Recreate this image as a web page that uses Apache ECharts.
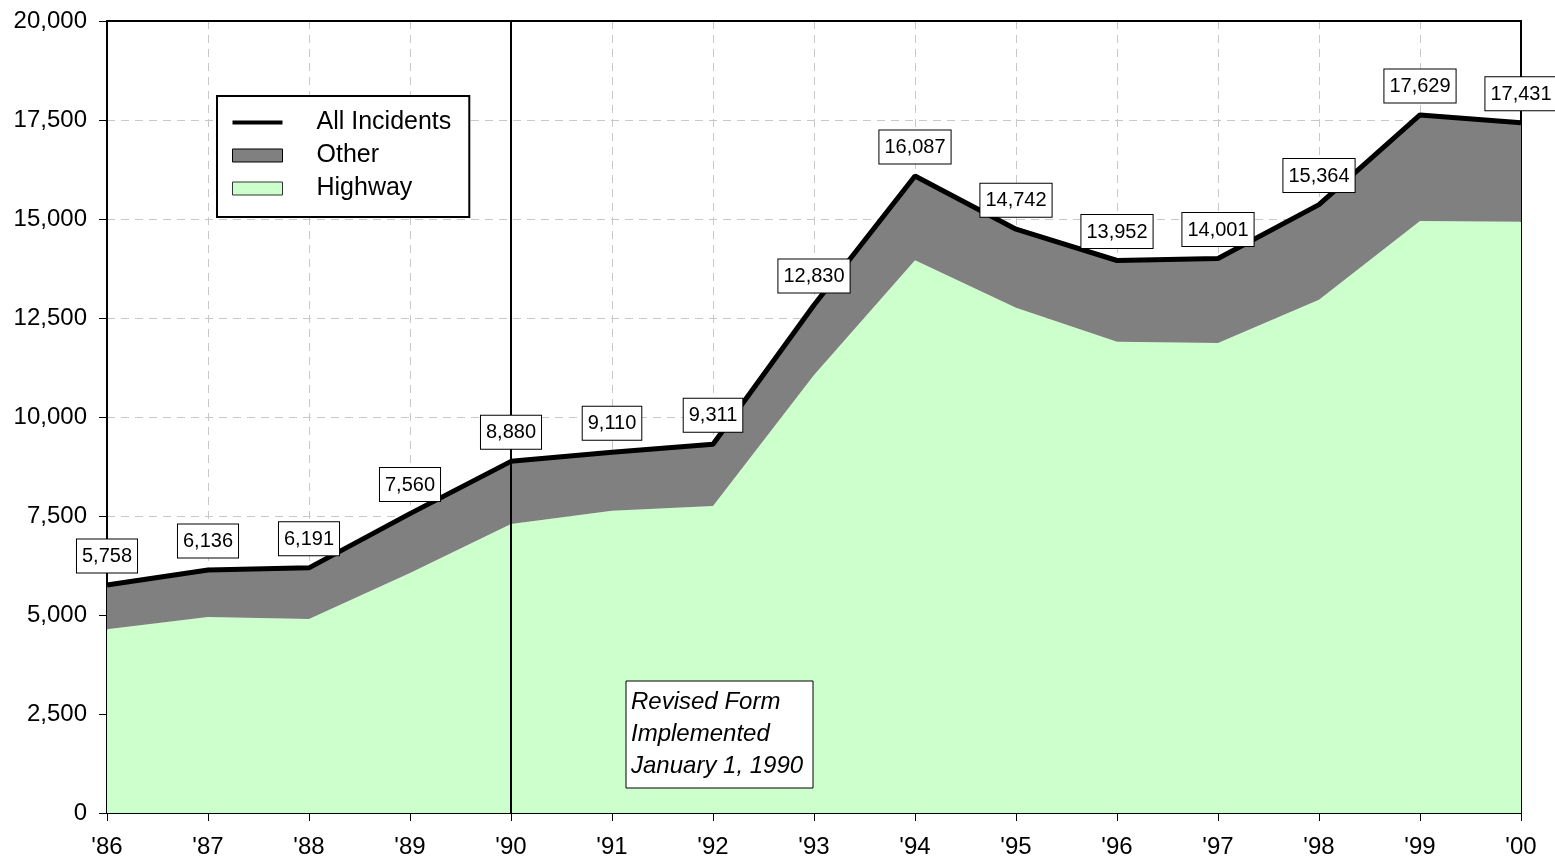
<!DOCTYPE html>
<html>
<head>
<meta charset="utf-8">
<script src="https://cdn.jsdelivr.net/npm/echarts@6/dist/echarts.min.js"></script>
<style>
html,body{margin:0;padding:0;background:#fff;}
#chart{width:1555px;height:863px;}
</style>
</head>
<body>
<div id="chart"></div>
<script>
const years = ["'86","'87","'88","'89","'90","'91","'92","'93","'94","'95","'96","'97","'98","'99","'00"];
const allIncidents = [5758,6136,6191,7560,8880,9110,9311,12830,16087,14742,13952,14001,15364,17629,17431];
const highway = [4640,4950,4900,6060,7300,7630,7750,11060,13960,12760,11900,11870,12960,14950,14930];
const other = allIncidents.map((v,i)=>v-highway[i]);
const yTicks = [0,2500,5000,7500,10000,12500,15000,17500,20000];
const noteLines = ['Revised Form','Implemented','January 1, 1990'];

const fmt = v => v.toLocaleString('en-US');
const FONT = "'Liberation Sans', Arial, sans-serif";

const chart = echarts.init(document.getElementById('chart'));
chart.setOption({
  animation:false,
  backgroundColor:'#fff',
  textStyle:{fontFamily:FONT},
  grid:{left:107,right:34,top:21,bottom:50},
  legend:{
    orient:'vertical',left:217,top:96,
    backgroundColor:'#fff',borderColor:'#000',borderWidth:2,
    padding:[14,18,16,15],itemGap:8,itemWidth:50,itemHeight:13,
    textStyle:{fontSize:25,color:'#000',fontFamily:FONT,padding:[0,0,0,29]},
    data:[
      {name:'All Incidents',icon:'path://M0,5 L50,5 L50,9 L0,9 Z',itemStyle:{color:'#000',borderWidth:0}},
      {name:'Other',icon:'rect',itemStyle:{color:'#808080',borderColor:'#000',borderWidth:1}},
      {name:'Highway',icon:'rect',itemStyle:{color:'#ccffcc',borderColor:'#333',borderWidth:1}}
    ]
  },
  xAxis:[{
    type:'category',data:years,boundaryGap:false,
    axisLine:{lineStyle:{color:'#000',width:2}},
    axisTick:{show:true,alignWithLabel:true,length:8,lineStyle:{color:'#000'}},
    axisLabel:{fontSize:24,color:'#000',margin:22,fontFamily:FONT},
    splitLine:{show:true,lineStyle:{color:'#c8c8c8',type:[8,6],width:1}}
  },{
    type:'category',data:years,boundaryGap:false,position:'top',
    axisLine:{show:true,onZero:false,lineStyle:{color:'#000',width:2}},
    axisTick:{show:false},axisLabel:{show:false},splitLine:{show:false}
  }],
  yAxis:[{
    type:'value',min:0,max:20000,interval:2500,
    axisLine:{show:true,lineStyle:{color:'#000',width:2}},
    axisTick:{show:true,length:8,lineStyle:{color:'#000'}},
    axisLabel:{fontSize:24,color:'#000',margin:20,fontFamily:FONT,
      formatter:v=>yTicks.includes(v)?fmt(v):''},
    splitLine:{show:true,lineStyle:{color:'#c8c8c8',type:[8,6],width:1}}
  },{
    type:'value',min:0,max:20000,interval:2500,position:'right',
    axisLine:{show:true,onZero:false,lineStyle:{color:'#000',width:2}},
    axisTick:{show:false},axisLabel:{show:false},splitLine:{show:false}
  }],
  series:[
    {name:'Highway',type:'line',stack:'total',data:highway,symbol:'none',
      lineStyle:{width:0},areaStyle:{color:'#ccffcc',opacity:1},itemStyle:{color:'#ccffcc'},z:2},
    {name:'Other',type:'line',stack:'total',data:other,symbol:'none',
      lineStyle:{width:0},areaStyle:{color:'#808080',opacity:1},itemStyle:{color:'#808080'},z:2,
      markLine:{silent:true,symbol:'none',label:{show:false},
        lineStyle:{color:'#000',width:2,type:'solid'},data:[{xAxis:"'90"}]}},
    {name:'All Incidents',type:'line',data:allIncidents,symbol:'circle',symbolSize:1,showSymbol:true,
      lineStyle:{color:'#000',width:5},itemStyle:{color:'#000'},z:5,
      label:{show:true,position:'top',distance:12,formatter:p=>fmt(p.value),
        fontSize:20,color:'#000',fontFamily:FONT,backgroundColor:'#fff',
        borderColor:'#000',borderWidth:1,padding:[7,5,6,5]},
      labelLayout:{hideOverlap:false}}
  ],
  graphic:[
    {type:'rect',z:100,shape:{x:626,y:681,width:187,height:107},
      style:{fill:'#fff',stroke:'#000',lineWidth:1}},
    {type:'text',z:101,x:631,y:686,style:{text:noteLines.join('\n'),fontSize:24,fontStyle:'italic',
      fontFamily:FONT,fill:'#000',lineHeight:32}}
  ]
});
</script>
</body>
</html>
